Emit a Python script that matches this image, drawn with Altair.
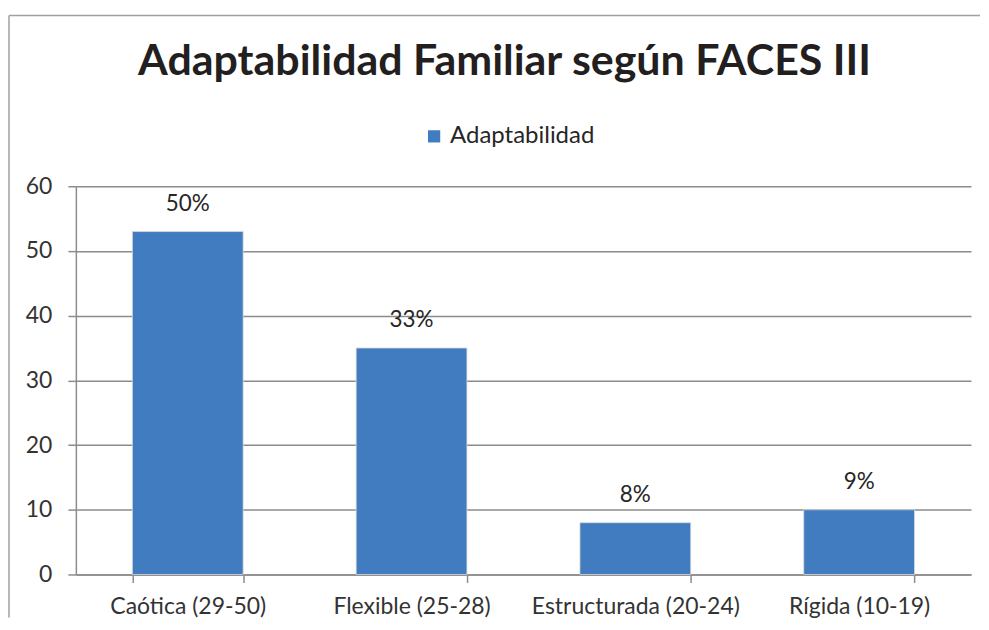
import altair as alt
import pandas as pd

categorias = ["Caótica (29-50)", "Flexible (25-28)", "Estructurada (20-24)", "Rígida (10-19)"]
valores = [53, 35, 8, 10]
etiquetas = ["50%", "33%", "8%", "9%"]
serie = "Adaptabilidad"
y_ticks = [0, 10, 20, 30, 40, 50, 60]

df = pd.DataFrame({
    "categoria": categorias,
    "valor": valores,
    "etiqueta": etiquetas,
    "serie": [serie] * len(categorias),
})

FONT = "Lato"
BAR = "#407CBF"
GRID = "#8c8c8c"

x_enc = alt.X(
    "categoria:N",
    sort=categorias,
    scale=alt.Scale(paddingInner=0.505, paddingOuter=0.2525),
    axis=alt.Axis(
        title=None,
        labelAngle=0,
        labelFont=FONT,
        labelFontSize=23,
        labelColor="#333333",
        labelPadding=13,
        labelLimit=400,
        tickBand="extent",
        tickSize=8,
        tickColor=GRID,
        tickWidth=1.5,
        domainColor=GRID,
        domainWidth=1.5,
        grid=False,
    ),
)

y_enc = alt.Y(
    "valor:Q",
    scale=alt.Scale(domain=[0, 60], nice=False),
    axis=alt.Axis(
        title=None,
        values=y_ticks,
        labelFont=FONT,
        labelFontSize=23,
        labelColor="#333333",
        labelPadding=16,
        tickSize=8,
        tickColor=GRID,
        tickWidth=1.5,
        domainColor=GRID,
        domainWidth=1.5,
        grid=True,
        gridColor=GRID,
        gridWidth=1.5,
    ),
)

bars = alt.Chart(df).mark_bar(stroke="#d9d9d9", strokeWidth=0.8).encode(
    x=x_enc,
    y=y_enc,
    color=alt.Color(
        "serie:N",
        scale=alt.Scale(range=[BAR]),
        legend=alt.Legend(
            title=None,
            orient="none",
            legendX=347,
            legendY=-62,
            symbolType="square",
            symbolSize=150,
            symbolStrokeWidth=0,
            labelFont=FONT,
            labelFontSize=24,
            labelColor="#262626",
            padding=0,
        ),
    ),
)

labels = alt.Chart(df).mark_text(
    font=FONT, fontSize=22.5, color="#262626", baseline="alphabetic", dy=-21
).encode(
    x=alt.X("categoria:N", sort=categorias),
    y="valor:Q",
    text="etiqueta:N",
)

border_df = pd.DataFrame({"k": [0]})
border_left = alt.Chart(border_df).mark_rule(color="#a0a0a0", strokeWidth=1.5).encode(
    x=alt.value(-67), y=alt.value(-171), y2=alt.value(432)
)
border_top = alt.Chart(border_df).mark_rule(color="#a0a0a0", strokeWidth=1.5).encode(
    x=alt.value(-67), x2=alt.value(906), y=alt.value(-171)
)

chart = alt.layer(border_left, border_top, bars, labels).properties(
    width=897,
    height=389,
    padding={"left": 0, "top": 6, "right": 0, "bottom": 0},
    title=alt.TitleParams(
        text="Adaptabilidad Familiar según FACES III",
        font=FONT,
        fontSize=43,
        fontWeight="bold",
        color="#231f20",
        anchor="middle",
        frame="group",
        baseline="alphabetic",
        offset=-103.75,
        dx=-19,
    ),
).configure_view(stroke=None)

chart.save("out.html", embed_options={"renderer": "svg", "actions": False})
